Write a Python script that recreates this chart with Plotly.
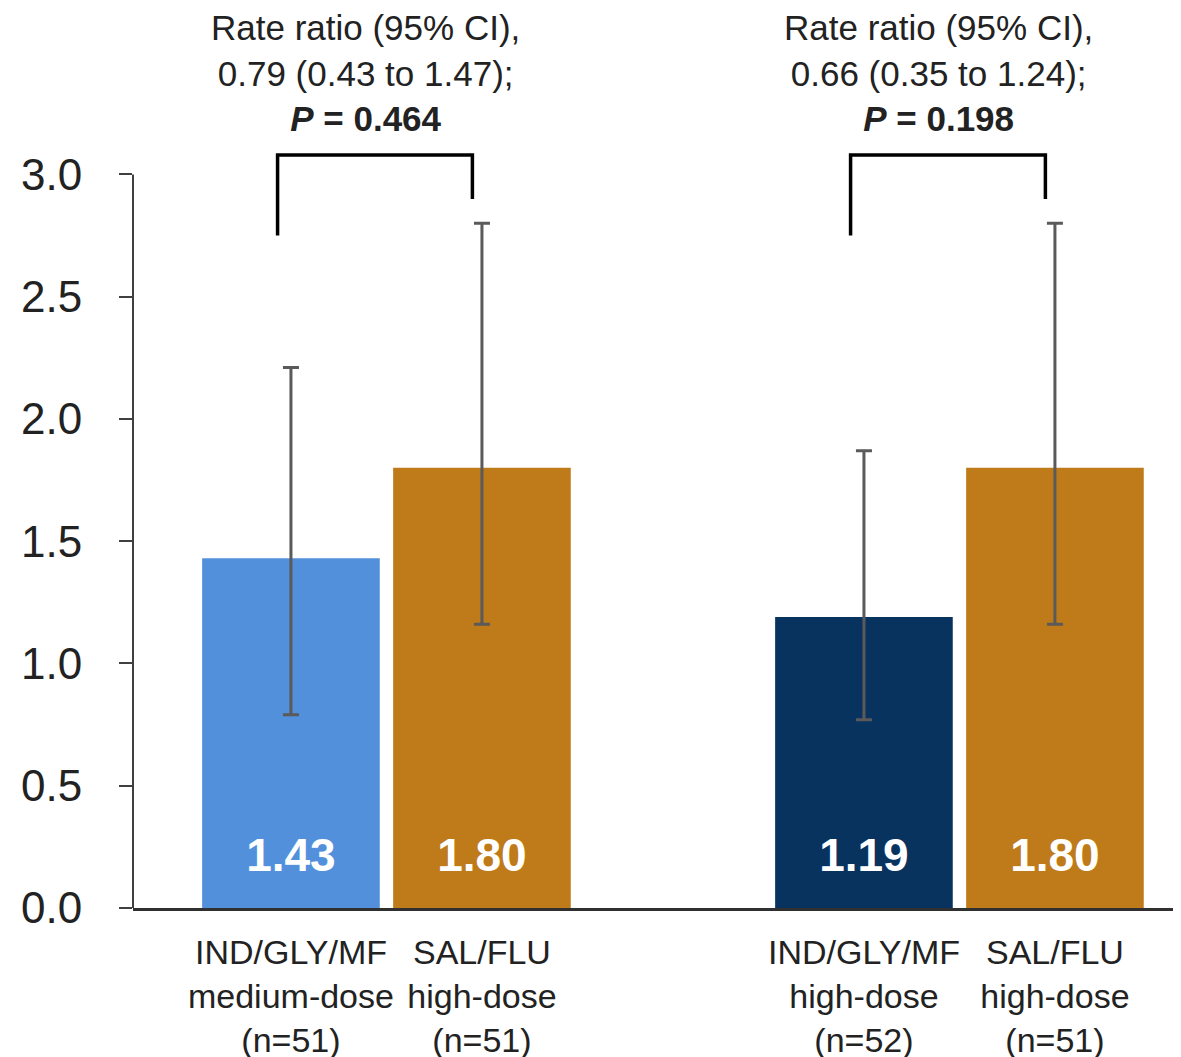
import plotly.graph_objects as go

# ---- data ----
categories = [
    "IND/GLY/MF<br>medium-dose<br>(n=51)",
    "SAL/FLU<br>high-dose<br>(n=51)",
    "IND/GLY/MF<br>high-dose<br>(n=52)",
    "SAL/FLU<br>high-dose<br>(n=51)",
]
group_index = [0, 0, 1, 1]
within_index = [0, 1, 0, 1]
rates = [1.43, 1.80, 1.19, 1.80]
ci_upper = [2.21, 2.80, 1.87, 2.80]
ci_lower = [0.79, 1.16, 0.77, 1.16]
bar_colors = ["#5290DC", "#BF7B1A", "#08335F", "#BF7B1A"]

comparison_texts = [
    "Rate ratio (95% CI),<br>0.79 (0.43 to 1.47);<br><b><i>P</i> = 0.464</b>",
    "Rate ratio (95% CI),<br>0.66 (0.35 to 1.24);<br><b><i>P</i> = 0.198</b>",
]
y_ticks = [0.0, 0.5, 1.0, 1.5, 2.0, 2.5, 3.0]
y_ticktext = ["0.0", "0.5", "1.0", "1.5", "2.0", "2.5", "3.0"]

# ---- layout helpers ----
xpos = [g * 3 + w for g, w in zip(group_index, within_index)]
err_plus = [u - r for u, r in zip(ci_upper, rates)]
err_minus = [r - l for r, l in zip(rates, ci_lower)]

FONT = "Liberation Sans, Arial, sans-serif"
TXT = "#222222"
Y_MAX = 3.1

fig = go.Figure()
fig.add_trace(go.Bar(
    x=xpos, y=rates, width=0.93,
    marker=dict(color=bar_colors, line=dict(width=0)),
    error_y=dict(type="data", symmetric=False, array=err_plus, arrayminus=err_minus,
                 color="#5a5a5a", thickness=3, width=8),
    showlegend=False, hoverinfo="skip",
))
# value labels near the base of each bar
fig.add_trace(go.Scatter(
    x=xpos, y=[0.2] * len(rates), mode="text",
    text=[f"{v:.2f}" for v in rates],
    textfont=dict(family=FONT, size=46, color="white", weight="bold"),
    textposition="middle center", showlegend=False, hoverinfo="skip",
))

# comparison brackets and texts
bracket_top, left_leg_bottom, right_leg_bottom = 3.08, 2.75, 2.90
for gi in range(2):
    xs = [p for p, g in zip(xpos, group_index) if g == gi]
    xl, xr = xs[0] - 0.07, xs[1] - 0.05
    fig.add_trace(go.Scatter(
        x=[xl, xl, xr, xr], y=[left_leg_bottom, bracket_top, bracket_top, right_leg_bottom],
        mode="lines", line=dict(color="black", width=3.5),
        showlegend=False, hoverinfo="skip", cliponaxis=False,
    ))
    fig.add_annotation(
        x=(xs[0] + xs[1]) / 2 - 0.11, y=3.14 / Y_MAX, xref="x", yref="paper",
        text=comparison_texts[gi], showarrow=False, yanchor="bottom", xanchor="center",
        font=dict(family=FONT, size=35, color=TXT), align="center",
    )

# y axis line drawn only up to 3.0
fig.add_shape(type="line", xref="paper", yref="y", x0=0, x1=0, y0=0, y1=3.0,
              line=dict(color="#404040", width=2))

fig.update_layout(
    width=1181, height=1057,
    margin=dict(l=125, r=8, t=142, b=157),
    paper_bgcolor="white", plot_bgcolor="white",
    font=dict(family=FONT, color=TXT),
    xaxis=dict(
        range=[-0.827, 4.66], tickvals=xpos, ticktext=categories,
        showgrid=False, zeroline=False, showline=True, linecolor="#303030", linewidth=2.5,
        ticks="", tickfont=dict(family=FONT, size=34, color=TXT),
        ticklabelstandoff=12, automargin=False,
    ),
    yaxis=dict(
        range=[0, Y_MAX], tickvals=y_ticks, ticktext=y_ticktext,
        showgrid=False, zeroline=False, showline=False,
        ticks="outside", ticklen=13, tickwidth=2, tickcolor="#404040",
        tickfont=dict(family=FONT, size=44, color=TXT),
        ticklabelstandoff=28, automargin=False,
    ),
)

fig.write_html("out.html")
